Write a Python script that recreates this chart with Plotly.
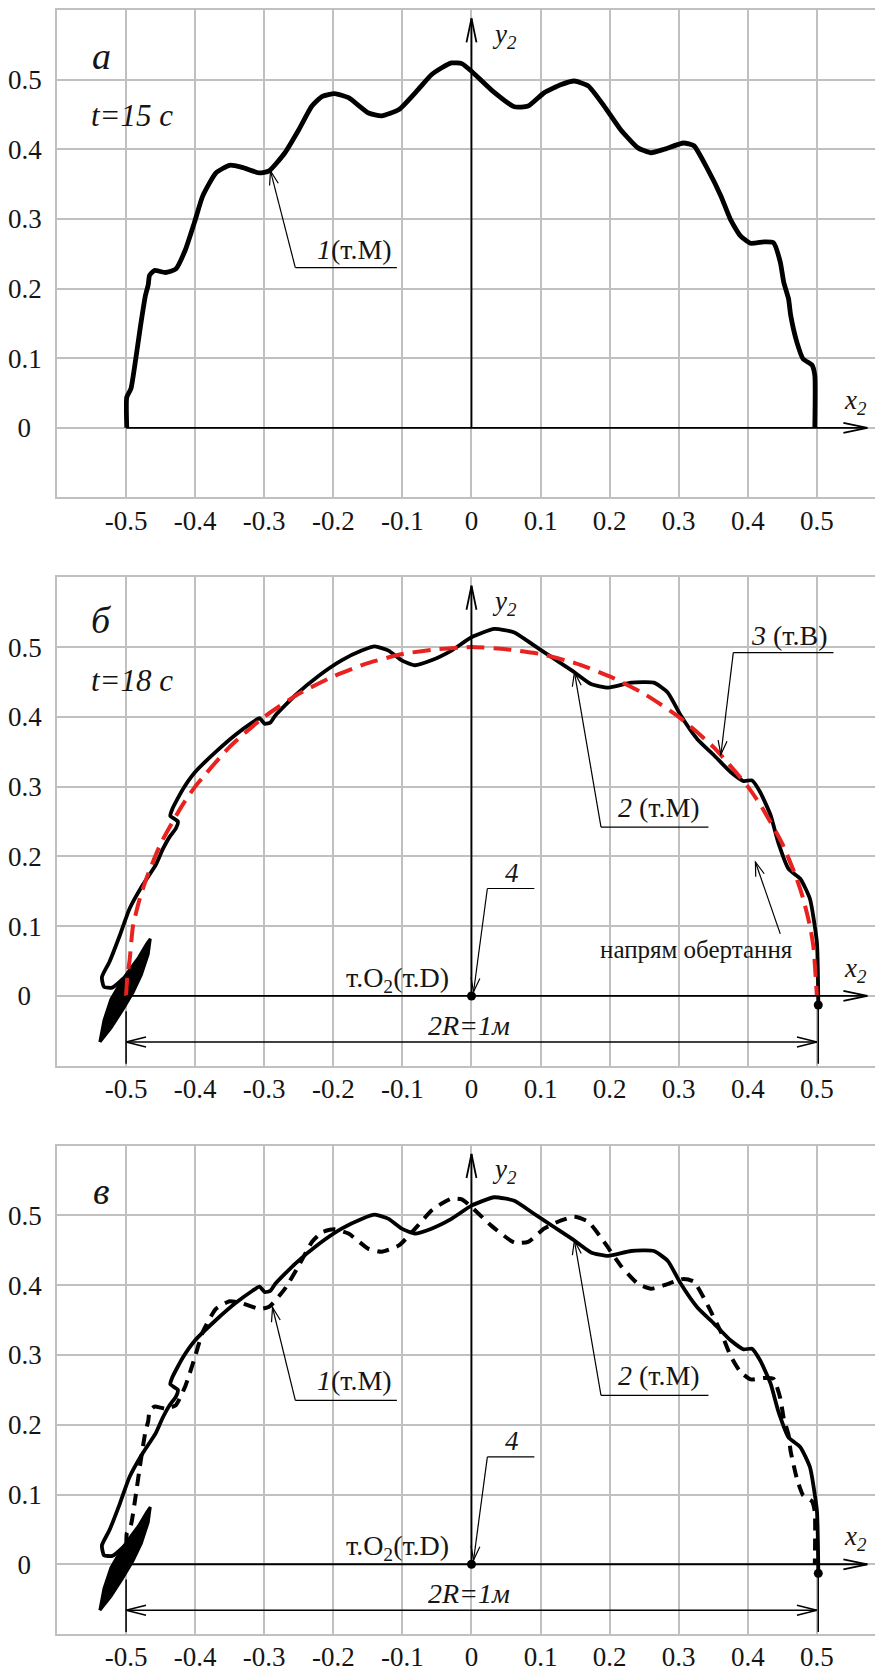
import math
import plotly.graph_objects as go

# ---------------- data ----------------
# curve 1: trajectory of point M at t = 15 s
curve1_x = [-0.499, -0.499, -0.493, -0.486, -0.479, -0.472, -0.468, -0.466, -0.459, -0.443,
            -0.428, -0.414, -0.401, -0.389, -0.370, -0.350, -0.332, -0.307, -0.293, -0.270,
            -0.250, -0.231, -0.216, -0.198, -0.178, -0.149, -0.130, -0.105, -0.077, -0.058,
            -0.043, -0.029, -0.014, 0.000, 0.029, 0.062, 0.082, 0.105, 0.130, 0.149,
            0.169, 0.192, 0.216, 0.241, 0.260, 0.279, 0.307, 0.322, 0.342, 0.361,
            0.375, 0.389, 0.404, 0.423, 0.437, 0.447, 0.452, 0.459, 0.462, 0.471,
            0.480, 0.493, 0.497, 0.497]
curve1_y = [0.000, 0.044, 0.056, 0.099, 0.147, 0.190, 0.205, 0.219, 0.226, 0.223,
            0.228, 0.256, 0.295, 0.333, 0.366, 0.377, 0.374, 0.366, 0.369, 0.395,
            0.428, 0.462, 0.476, 0.480, 0.474, 0.452, 0.448, 0.457, 0.486, 0.507,
            0.517, 0.524, 0.523, 0.512, 0.485, 0.461, 0.462, 0.481, 0.493, 0.498,
            0.491, 0.462, 0.428, 0.402, 0.395, 0.400, 0.409, 0.405, 0.371, 0.333,
            0.299, 0.276, 0.265, 0.267, 0.266, 0.238, 0.209, 0.185, 0.162, 0.123,
            0.099, 0.090, 0.075, 0.000]

# curve 2: trajectory of point M at t = 18 s (starting from the knot near x=-0.5)
curve2_x = [-0.472, -0.490, -0.505, -0.520, -0.532, -0.535, -0.524, -0.509, -0.495, -0.476,
            -0.457, -0.447, -0.437, -0.428, -0.425, -0.436, -0.433, -0.418, -0.400, -0.371,
            -0.342, -0.317, -0.307, -0.299, -0.291, -0.284, -0.255, -0.221, -0.188, -0.159,
            -0.140, -0.120, -0.101, -0.082, -0.058, -0.029, 0.000, 0.033, 0.062, 0.091,
            0.120, 0.149, 0.173, 0.198, 0.231, 0.264, 0.284, 0.303, 0.327, 0.351,
            0.375, 0.394, 0.406, 0.418, 0.433, 0.444, 0.459, 0.476, 0.490, 0.500,
            0.502, 0.502]
curve2_y = [0.060, 0.040, 0.024, 0.012, 0.013, 0.027, 0.049, 0.087, 0.125, 0.159,
            0.188, 0.210, 0.228, 0.240, 0.250, 0.258, 0.268, 0.296, 0.321, 0.349,
            0.374, 0.392, 0.398, 0.390, 0.392, 0.402, 0.431, 0.459, 0.481, 0.495,
            0.501, 0.495, 0.481, 0.474, 0.481, 0.495, 0.514, 0.526, 0.521, 0.502,
            0.483, 0.464, 0.447, 0.442, 0.449, 0.449, 0.435, 0.402, 0.368, 0.345,
            0.321, 0.308, 0.309, 0.292, 0.259, 0.220, 0.182, 0.168, 0.139, 0.077,
            -0.004, -0.013]

# outline of the dense knot of curve 2 near (-0.5, 0)
knot_x = [-0.538, -0.522, -0.505, -0.490, -0.478, -0.468, -0.465, -0.470, -0.482, -0.497,
          -0.512, -0.522, -0.532, -0.538]
knot_y = [-0.066, -0.046, -0.020, 0.005, 0.030, 0.060, 0.082, 0.075, 0.055, 0.035,
          0.012, -0.005, -0.035, -0.066]

# curve 3: trajectory of point B (dashed red)
curve3_x = [-0.500, -0.498, -0.495, -0.490, -0.480, -0.470, -0.450, -0.420, -0.400, -0.350,
            -0.300, -0.250, -0.200, -0.150, -0.100, -0.050, 0.000, 0.050, 0.100, 0.150,
            0.200, 0.250, 0.300, 0.350, 0.400, 0.420, 0.450, 0.470, 0.480, 0.490,
            0.495, 0.500]
curve3_y = [0.000, 0.030, 0.050, 0.100, 0.140, 0.170, 0.218, 0.271, 0.300, 0.357,
            0.400, 0.433, 0.458, 0.477, 0.490, 0.497, 0.500, 0.497, 0.490, 0.477,
            0.458, 0.433, 0.400, 0.357, 0.300, 0.271, 0.218, 0.170, 0.140, 0.100,
            0.070, 0.000]

# marked points: centre O2 (point D) and the end of curve 2
points_x = [0.0, 0.502]
points_y = [0.0, -0.013]

x_tickvals = [-0.5, -0.4, -0.3, -0.2, -0.1, 0.0, 0.1, 0.2, 0.3, 0.4, 0.5]
x_ticktext = ["-0.5", "-0.4", "-0.3", "-0.2", "-0.1", "0", "0.1", "0.2", "0.3", "0.4", "0.5"]
y_tickvals = [0.0, 0.1, 0.2, 0.3, 0.4, 0.5]
y_ticktext = ["0\u2009\u2009", "0.1", "0.2", "0.3", "0.4", "0.5"]

# ---------------- layout geometry ----------------
# the page body keeps an 8 px margin, so the figure is 8 px smaller each way
W, H = 875, 1665
ML = 46
X_RANGE = [-0.6, 0.5957]
Y_RANGE = [-0.1, 0.6]
PANELS_PX = [(0, 488), (568, 1057), (1137, 1626)]   # top, bottom of each plot area
SX = (W - ML) / (X_RANGE[1] - X_RANGE[0])
SY = (PANELS_PX[0][1] - PANELS_PX[0][0]) / (Y_RANGE[1] - Y_RANGE[0])

SERIF = "Liberation Serif, Tinos, Times New Roman, DejaVu Serif, serif"
GRID = "#c0c0c0"
INK = "#151515"

fig = go.Figure()

# panel a
fig.add_trace(go.Scatter(x=curve1_x, y=curve1_y, mode="lines", xaxis="x", yaxis="y",
                         line=dict(color="black", width=4.8, shape="spline", smoothing=0.5),
                         showlegend=False, hoverinfo="skip"))
# panel б
fig.add_trace(go.Scatter(x=knot_x, y=knot_y, mode="lines", xaxis="x2", yaxis="y2",
                         fill="toself", fillcolor="black", line=dict(color="black", width=3),
                         showlegend=False, hoverinfo="skip"))
fig.add_trace(go.Scatter(x=curve2_x, y=curve2_y, mode="lines", xaxis="x2", yaxis="y2",
                         line=dict(color="black", width=3.8, shape="spline", smoothing=0.5),
                         showlegend=False, hoverinfo="skip"))
fig.add_trace(go.Scatter(x=curve3_x, y=curve3_y, mode="lines", xaxis="x2", yaxis="y2",
                         line=dict(color="#e8231f", width=4, dash="18px,9px", shape="spline", smoothing=0.6),
                         showlegend=False, hoverinfo="skip"))
fig.add_trace(go.Scatter(x=points_x, y=points_y, mode="markers", xaxis="x2", yaxis="y2",
                         marker=dict(color="black", size=9),
                         showlegend=False, hoverinfo="skip"))
# panel в
fig.add_trace(go.Scatter(x=curve1_x, y=curve1_y, mode="lines", xaxis="x3", yaxis="y3",
                         line=dict(color="black", width=4, dash="12px,8px", shape="spline", smoothing=0.5),
                         showlegend=False, hoverinfo="skip"))
fig.add_trace(go.Scatter(x=knot_x, y=knot_y, mode="lines", xaxis="x3", yaxis="y3",
                         fill="toself", fillcolor="black", line=dict(color="black", width=3),
                         showlegend=False, hoverinfo="skip"))
fig.add_trace(go.Scatter(x=curve2_x, y=curve2_y, mode="lines", xaxis="x3", yaxis="y3",
                         line=dict(color="black", width=3.8, shape="spline", smoothing=0.5),
                         showlegend=False, hoverinfo="skip"))
fig.add_trace(go.Scatter(x=points_x, y=points_y, mode="markers", xaxis="x3", yaxis="y3",
                         marker=dict(color="black", size=9),
                         showlegend=False, hoverinfo="skip"))

shapes = []
annotations = []


def seg(xr, yr, x0, y0, x1, y1, w=1.3):
    shapes.append(dict(type="line", xref=xr, yref=yr, x0=x0, y0=y0, x1=x1, y1=y1,
                       line=dict(color="black", width=w), layer="above"))


def head(xr, yr, x0, y0, x1, y1, L=15, Wd=5, w=1.3):
    dxp = (x1 - x0) * SX
    dyp = (y1 - y0) * SY
    n = math.hypot(dxp, dyp)
    ux, uy = dxp / n, dyp / n
    bx, by = -ux * L, -uy * L
    qx, qy = -uy * Wd, ux * Wd
    p1 = (x1 + (bx + qx) / SX, y1 + (by + qy) / SY)
    p2 = (x1 + (bx - qx) / SX, y1 + (by - qy) / SY)
    shapes.append(dict(type="path", xref=xr, yref=yr,
                       path=f"M {p1[0]:.5f},{p1[1]:.5f} L {x1:.5f},{y1:.5f} L {p2[0]:.5f},{p2[1]:.5f}",
                       line=dict(color="black", width=w), layer="above"))


def arrow(xr, yr, x0, y0, x1, y1, L=15, Wd=5, w=1.2):
    seg(xr, yr, x0, y0, x1, y1, w)
    head(xr, yr, x0, y0, x1, y1, L, Wd, w)


def text(xr, yr, x, y, s, size=28, xanchor="center", italic=False):
    if italic:
        s = "<i>" + s + "</i>"
    annotations.append(dict(xref=xr, yref=yr, x=x, y=y, text=s, showarrow=False,
                            xanchor=xanchor, yanchor="middle",
                            font=dict(family=SERIF, size=size, color=INK)))


def leader_label(xr, yr, label, lx, ly, ux0, ux1, uy, tx, ty):
    text(xr, yr, lx, ly, label)
    seg(xr, yr, ux0, uy, ux1, uy, 1.2)
    arrow(xr, yr, ux0, uy, tx, ty, L=14, Wd=4.5, w=1.2)


panel_refs = [("x", "y"), ("x2", "y2"), ("x3", "y3")]

for i, (xr, yr) in enumerate(panel_refs):
    # coordinate axes with arrows
    arrow(xr, yr, 0.0, 0.0, 0.0, 0.588, L=24, Wd=5, w=1.8)
    arrow(xr, yr, -0.5, 0.0, 0.573, 0.0, L=24, Wd=5, w=1.8)
    text(xr, yr, 0.048, 0.563, "y<sub>2</sub>", size=27, italic=True)
    text(xr, yr, 0.556, 0.037, "x<sub>2</sub>", size=27, italic=True)

# panel a
text("x", "y", -0.535, 0.534, "а", size=38, italic=True)
text("x", "y", -0.492, 0.449, "t=15 c", size=31, italic=True)
leader_label("x", "y", "<i>1</i>(т.М)", -0.169, 0.256, -0.255, -0.108, 0.230, -0.291, 0.369)

# panel б
text("x2", "y2", -0.535, 0.539, "б", size=38, italic=True)
text("x2", "y2", -0.492, 0.452, "t=18 c", size=31, italic=True)
leader_label("x2", "y2", "<i>3</i> (т.В)", 0.459, 0.517, 0.379, 0.524, 0.492, 0.361, 0.346)
leader_label("x2", "y2", "<i>2</i> (т.М)", 0.271, 0.270, 0.1875, 0.343, 0.242, 0.149, 0.464)
text("x2", "y2", 0.326, 0.067, "напрям обертання", size=25)
arrow("x2", "y2", 0.447, 0.089, 0.411, 0.192, L=14, Wd=4.5, w=1.2)

# panel в
text("x3", "y3", -0.535, 0.535, "в", size=38, italic=True)
leader_label("x3", "y3", "<i>1</i>(т.М)", -0.169, 0.263, -0.255, -0.108, 0.235, -0.288, 0.368)
leader_label("x3", "y3", "<i>2</i> (т.М)", 0.271, 0.270, 0.1875, 0.343, 0.242, 0.149, 0.464)

# centre point 4 and the 2R dimension in panels б and в
for xr, yr in panel_refs[1:]:
    text(xr, yr, 0.058, 0.176, "4", size=27, italic=True)
    seg(xr, yr, 0.023, 0.154, 0.091, 0.154, 1.2)
    arrow(xr, yr, 0.023, 0.154, 0.003, 0.006, L=14, Wd=4.5, w=1.2)
    text(xr, yr, -0.029, 0.024, "т.O<sub>2</sub>(т.D)", size=28, xanchor="right")
    text(xr, yr, -0.003, -0.042, "2R=1м", size=28, italic=True)
    seg(xr, yr, -0.5, -0.066, 0.5, -0.066, 1.5)
    head(xr, yr, 0.0, -0.066, -0.5, -0.066, L=20, Wd=5, w=1.5)
    head(xr, yr, 0.0, -0.066, 0.5, -0.066, L=20, Wd=5, w=1.5)
    seg(xr, yr, -0.5, -0.022, -0.5, -0.097, 1.5)
    seg(xr, yr, 0.502, -0.013, 0.502, -0.097, 1.5)

layout = dict(
    width=W, height=H,
    margin=dict(l=ML, r=0, t=0, b=0),
    paper_bgcolor="white", plot_bgcolor="white",
    shapes=shapes, annotations=annotations,
    showlegend=False,
)

for i, (top, bot) in enumerate(PANELS_PX):
    dom = [(H - bot) / H, (H - top) / H]
    sfx = "" if i == 0 else str(i + 1)
    layout["xaxis" + sfx] = dict(
        domain=[0, 1], range=X_RANGE, anchor="y" + sfx,
        tickmode="array", tickvals=x_tickvals, ticktext=x_ticktext,
        showgrid=True, gridcolor=GRID, gridwidth=1.6,
        zeroline=False, showline=True, linecolor=GRID, linewidth=1.6, mirror=True,
        ticks="", ticklabelstandoff=-2,
        tickfont=dict(family=SERIF, size=27, color=INK),
        fixedrange=True,
    )
    layout["yaxis" + sfx] = dict(
        domain=dom, range=Y_RANGE, anchor="x" + sfx,
        tickmode="array", tickvals=y_tickvals, ticktext=y_ticktext,
        showgrid=True, gridcolor=GRID, gridwidth=1.6,
        zeroline=False, showline=True, linecolor=GRID, linewidth=1.6,
        ticks="", ticklabelstandoff=8,
        tickfont=dict(family=SERIF, size=27, color=INK),
        fixedrange=True,
    )

fig.update_layout(**layout)
fig.write_html("out.html")
